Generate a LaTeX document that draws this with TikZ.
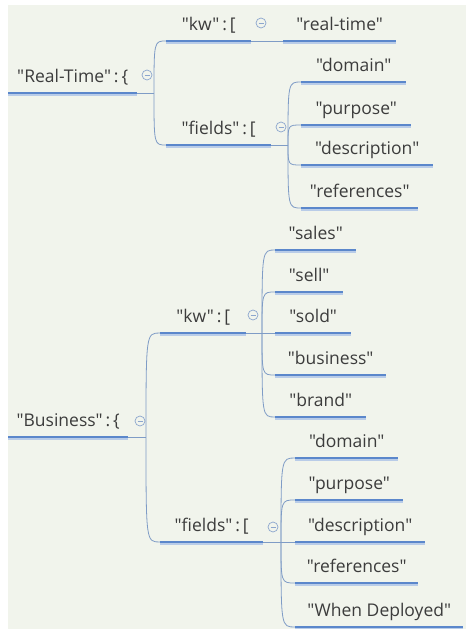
\documentclass[tikz,border=0pt]{standalone}
\usepackage{fontspec}
\setmainfont{Open Sans}[Ligatures=TeXOff]
\definecolor{mapbg}{HTML}{F1F4EC}
\definecolor{lineblue}{HTML}{5B87CB}
\definecolor{shadeblue}{HTML}{B9CCE8}
\definecolor{linkblue}{HTML}{7F9CC6}
\definecolor{foldblue}{HTML}{8CA6CE}
\definecolor{mapink}{HTML}{3C3C3C}
\begin{document}
\begin{tikzpicture}[x=1pt, y=-1pt,
    topic/.style={anchor=south west, inner xsep=0pt, inner ysep=6pt, text height=13pt, text depth=4pt,
                  text=mapink, font=\fontsize{17.5}{20}\selectfont},
    uline/.style={line width=2.6pt, draw=lineblue},
    ushade/.style={line width=1.2pt, draw=shadeblue},
    link/.style={line width=0.8pt, draw=linkblue},
    fold/.style={circle, draw=foldblue, line width=0.7pt, fill=mapbg, minimum size=10pt, inner sep=0pt,
                 path picture={\draw[foldblue, line width=0.7pt]
                   ([xshift=-2.5pt]path picture bounding box.center) -- ([xshift=2.5pt]path picture bounding box.center);}}]
  \fill[white] (0,0) rectangle (466,629);
  \fill[mapbg] (8,5) rectangle (466,629);
  \useasboundingbox (0,0) rectangle (466,629);

  % Real-Time branch
  \node[topic, minimum width=129pt] (rt) at (8,93) {"Real-Time"\,:\,\{};
  \node[fold] (rtfold) at (147,75) {};
  \coordinate (rtj) at (154,93);

  \node[topic, minimum width=85pt] (rtkw) at (166,41) {"kw"\,:\,[};
  \node[fold] (rtkwfold) at (261,23) {};
  \node[topic, minimum width=113pt] (rtkw1) at (283,41) {"real-time"};

  \node[topic, minimum width=105pt] (rtfd) at (166,145) {"fields"\,:\,[};
  \node[fold] (rtfdfold) at (281,127) {};
  \coordinate (rtfdj) at (288,145);
  \node[topic, minimum width=105pt] (rtfd1) at (301,82) {"domain"};
  \node[topic, minimum width=110pt] (rtfd2) at (301,125) {"purpose"};
  \node[topic, minimum width=132pt] (rtfd3) at (301,165) {"description"};
  \node[topic, minimum width=117pt] (rtfd4) at (301,208) {"references"};

  % Business branch
  \node[topic, minimum width=120pt] (bz) at (8,437) {"Business"\,:\,\{};
  \node[fold] (bzfold) at (140,421) {};
  \coordinate (bzj) at (146,437);

  \node[topic, minimum width=86pt] (bzkw) at (160,333) {"kw"\,:\,[};
  \node[fold] (bzkwfold) at (253,315) {};
  \coordinate (bzkwj) at (262,333);
  \node[topic, minimum width=81pt] (bzkw1) at (275,250) {"sales"};
  \node[topic, minimum width=68pt] (bzkw2) at (275,292) {"sell"};
  \node[topic, minimum width=76pt] (bzkw3) at (275,333) {"sold"};
  \node[topic, minimum width=111pt] (bzkw4) at (275,375) {"business"};
  \node[topic, minimum width=91pt] (bzkw5) at (275,417) {"brand"};

  \node[topic, minimum width=103pt] (bzfd) at (160,542) {"fields"\,:\,[};
  \node[fold] (bzfdfold) at (273,527) {};
  \coordinate (bzfdj) at (281,542);
  \node[topic, minimum width=103pt] (bzfd1) at (295,458) {"domain"};
  \node[topic, minimum width=108pt] (bzfd2) at (295,500) {"purpose"};
  \node[topic, minimum width=130pt] (bzfd3) at (295,542) {"description"};
  \node[topic, minimum width=123pt] (bzfd4) at (295,583) {"references"};
  \node[topic, minimum width=168pt] (bzfd5) at (295,627) {"When Deployed"};

  % thin links
  \draw[link] (rt.south east) -- (rtj);
  \foreach \c in {rtkw, rtfd}
    \draw[link] (rtj) .. controls (rtj |- \c.south west) .. (\c.south west);
  \draw[link] (rtkw.south east) -- (rtkw1.south west);
  \draw[link] (rtfd.south east) -- (rtfdj);
  \foreach \c in {rtfd1, rtfd2, rtfd3, rtfd4}
    \draw[link] (rtfdj) .. controls (rtfdj |- \c.south west) .. (\c.south west);

  \draw[link] (bz.south east) -- (bzj);
  \foreach \c in {bzkw, bzfd}
    \draw[link] (bzj) .. controls (bzj |- \c.south west) .. (\c.south west);
  \draw[link] (bzkw.south east) -- (bzkwj);
  \foreach \c in {bzkw1, bzkw2, bzkw4, bzkw5}
    \draw[link] (bzkwj) .. controls (bzkwj |- \c.south west) .. (\c.south west);
  \draw[link] (bzkwj) -- (bzkw3.south west);
  \draw[link] (bzfd.south east) -- (bzfdj);
  \foreach \c in {bzfd1, bzfd2, bzfd4, bzfd5}
    \draw[link] (bzfdj) .. controls (bzfdj |- \c.south west) .. (\c.south west);
  \draw[link] (bzfdj) -- (bzfd3.south west);

  % underlines
  \foreach \n in {rt, rtkw, rtkw1, rtfd, rtfd1, rtfd2, rtfd3, rtfd4,
                  bz, bzkw, bzkw1, bzkw2, bzkw3, bzkw4, bzkw5,
                  bzfd, bzfd1, bzfd2, bzfd3, bzfd4, bzfd5} {
    \draw[ushade] ([yshift=-2pt]\n.south west) -- ([yshift=-2pt]\n.south east);
    \draw[uline] (\n.south west) -- (\n.south east);
  }
\end{tikzpicture}
\end{document}
